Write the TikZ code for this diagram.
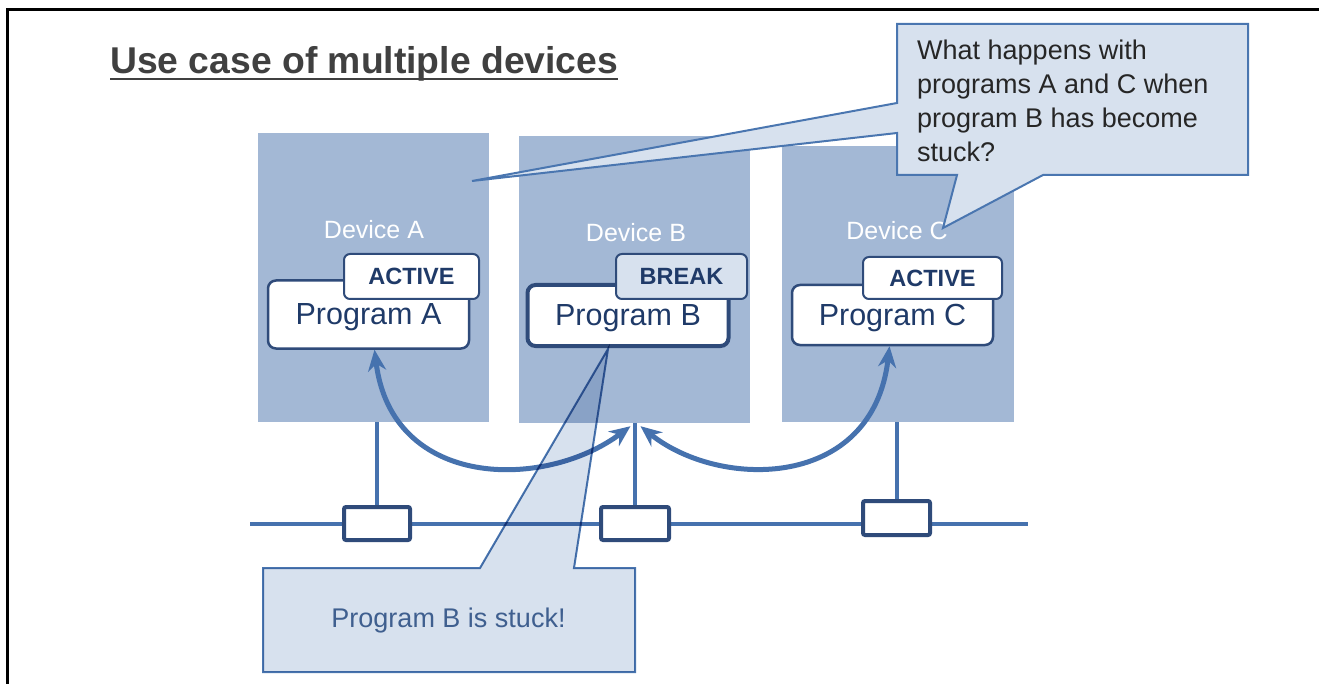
\documentclass[tikz,border=0pt]{standalone}
\usepackage{fontspec}
\setmainfont{Liberation Sans}
\usetikzlibrary{arrows.meta}

\definecolor{devfill}{HTML}{A3B8D5}
\definecolor{calloutfill}{HTML}{D7E1EE}
\definecolor{calloutline}{HTML}{4A76B0}
\definecolor{navy}{HTML}{2F4B7A}
\definecolor{progtext}{HTML}{1F3A68}
\definecolor{busblue}{HTML}{4672AE}
\definecolor{titlegray}{HTML}{404040}
\definecolor{calltext}{HTML}{262626}
\definecolor{stucktext}{HTML}{3F5F8F}

\tikzset{
 devicebox/.style={fill=devfill, minimum width=231pt, inner sep=0pt},
 devlabel/.style={text=white, font=\fontsize{25}{28}\selectfont, inner sep=0pt},
 progbox/.style={draw=navy, line width=2.5pt, fill=white, rounded corners=8pt, minimum width=201pt, minimum height=61pt, inner sep=0pt, text=progtext, text depth=0pt, font=\fontsize{30.5}{34}\selectfont},
 statetag/.style={draw=navy, line width=2pt, fill=white, rounded corners=6pt, minimum height=45pt, inner sep=0pt, text=progtext, font=\bfseries\fontsize{23.5}{26}\selectfont},
 connbox/.style={draw=navy, line width=4pt, fill=white, rounded corners=2pt, minimum width=66pt, minimum height=33pt, inner sep=0pt},
 wire/.style={draw=busblue, line width=4pt},
 bigarrow/.style={draw=busblue, line width=5pt, {Stealth[length=21pt,width=18pt]}-{Stealth[length=21pt,width=18pt]}},
 callout/.style={draw=calloutline, line width=2pt, fill=calloutfill, line join=miter},
}

\begin{document}
\begin{tikzpicture}[x=1pt, y=-1pt]
\useasboundingbox (0,0) rectangle (1319,684);

% frame
\draw[line width=3pt] (7,684) -- (7,10) -- (1319,10);

% title
\node[anchor=base west, inner sep=0pt, text=titlegray, font=\bfseries\fontsize{37.3}{40}\selectfont] (title) at (110,74) {Use case of multiple devices};
\draw[titlegray, line width=2pt] ([yshift=-5pt]title.base west) -- ([yshift=-5pt]title.base east);

% devices
\node[devicebox, minimum height=289pt] (devA) at (373.5,277.5) {};
\node[devicebox, minimum height=287pt] (devB) at (634.5,279.5) {};
\node[devicebox, minimum width=232pt, minimum height=276pt] (devC) at (898,284) {};
\node[devlabel] (labA) at (374,230) {Device A};
\node[devlabel] (labB) at (636,233) {Device B};
\node[devlabel] (labC) at (897,231) {Device C};

% bus and connectors
\coordinate (busL) at (250,524);
\coordinate (busR) at (1028,524);
\draw[wire] (busL) -- (busR);
\node[connbox] (connA) at (377,523.5) {};
\node[connbox, minimum width=68pt] (connB) at (635,523.5) {};
\node[connbox, minimum width=67pt, minimum height=34pt] (connC) at (896.5,518) {};
\draw[wire] (connA.north) -- (connA.north |- devA.south);
\draw[wire] (connB.north) -- (connB.north |- devB.south);
\draw[wire] (connC.north) -- (connC.north |- devC.south);

% programs
\node[progbox, minimum height=68pt] (progA) at (368.5,314.5) {Program A};
\node[progbox, line width=4pt] (progB) at (628,315.5) {Program B};
\node[progbox, minimum height=60pt] (progC) at (892.5,315) {Program C};
\node[statetag, minimum width=135pt] (tagA) at (411.5,276.5) {ACTIVE};
\node[statetag, minimum width=131pt, fill=calloutfill] (tagB) at (681.5,276.5) {BREAK};
\node[statetag, minimum width=139pt, minimum height=42pt] (tagC) at (932.5,278) {ACTIVE};

% arrows
\draw[bigarrow] ([xshift=6pt]progA.south) .. controls (392,490) and (545,490) .. ([xshift=-4pt,yshift=-3pt]devB.south);
\draw[bigarrow] ([xshift=6pt,yshift=-3pt]devB.south) .. controls (720,490) and (873,490) .. ([xshift=-3pt]progC.south);

% callout below
\coordinate (tipB) at ([xshift=-20pt,yshift=-1pt]progB.south);
\begin{scope}[blend mode=multiply]
\draw[callout] (263,568) -- (480,568) -- (tipB) -- (574,568) -- (635,568) -- (635,672) -- (263,672) -- cycle;
\end{scope}
\node[text=stucktext, font=\fontsize{27}{30}\selectfont] (stuck) at (448.5,621) {Program B is stuck!};

% callout above
\coordinate (tipA) at (472,181);
\coordinate (tipC) at (943,228);
\draw[callout] (897,24) -- (1248,24) -- (1248,175) -- (1043,175) -- (tipC) -- (957,175) -- (897,175) -- (897,133) -- (tipA) -- (897,103) -- cycle;
\node[anchor=north west, inner sep=0pt, align=left, text=calltext, font=\fontsize{27}{34}\selectfont] (question) at (917,40) {What happens with\\programs A and C when\\program B has become\\stuck?};
\end{tikzpicture}
\end{document}
